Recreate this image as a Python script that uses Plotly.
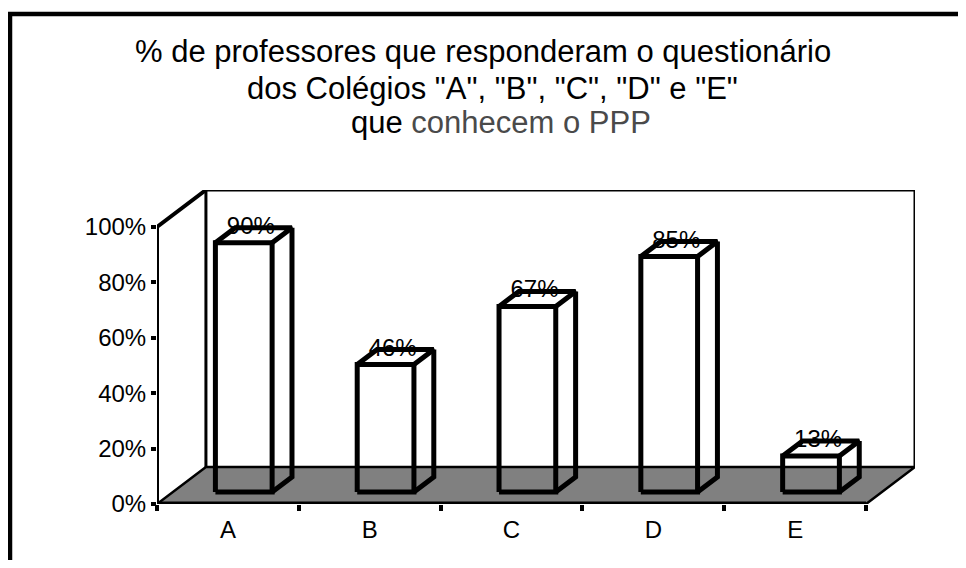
import plotly.graph_objects as go

# ---- data ----
categories = ["A", "B", "C", "D", "E"]
values = [0.90, 0.46, 0.67, 0.85, 0.13]
value_labels = ["90%", "46%", "67%", "85%", "13%"]
y_tick_vals = [0, 0.2, 0.4, 0.6, 0.8, 1.0]
y_tick_text = ["0%", "20%", "40%", "60%", "80%", "100%"]
title_lines = [
    "% de professores que responderam o questionário",
    'dos Colégios "A", "B", "C", "D" e "E"',
    'que <span style="color:#4a4a4a">conhecem o PPP</span>',
]

# ---- pseudo-3D geometry (in axis units) ----
N = len(categories)
DX = 0.345      # depth offset along x (category units)
DY = 0.1336     # depth offset along y (value units)
HALF_W = 0.2    # half bar width
D0, D1 = 0.324, 0.73  # bar front/back depth fraction

def P(x, v, d):
    return x + d * DX, v + d * DY

FONT = "Liberation Sans, Arial, sans-serif"
fig = go.Figure()

def poly(points, **kw):
    xs = [p[0] if p is not None else None for p in points]
    ys = [p[1] if p is not None else None for p in points]
    fig.add_trace(go.Scatter(x=xs, y=ys, mode="lines", hoverinfo="skip",
                             showlegend=False, cliponaxis=False, **kw))

# floor
poly([P(0, 0, 0), P(N, 0, 0), P(N, 0, 1), P(0, 0, 1), P(0, 0, 0)],
     fill="toself", fillcolor="#808080", line=dict(color="black", width=2.5))
# back wall
poly([P(0, 0, 1), P(0, 1, 1), P(N, 1, 1), P(N, 0, 1)],
     line=dict(color="black", width=3))
# left wall / value axis
poly([P(0, 0, 0), P(0, 1, 0), P(0, 1, 1)], line=dict(color="black", width=4))
# front floor edge (category axis)
poly([P(0, 0, 0), P(N, 0, 0)], line=dict(color="black", width=5))

# value labels (drawn beneath bar edges)
lab_x, lab_y = [], []
for i, v in enumerate(values):
    c = i + 0.5
    lab_x.append(P(c, v, (D0 + D1) / 2)[0] - 0.02)
    lab_y.append(P(c, v, D1)[1])
fig.add_trace(go.Scatter(x=lab_x, y=lab_y, mode="text", text=value_labels,
                         textposition="middle center", hoverinfo="skip",
                         showlegend=False, cliponaxis=False,
                         textfont=dict(family=FONT, size=24, color="black")))

# bars as wireframe boxes
pts = []
for i, v in enumerate(values):
    c = i + 0.5
    xl, xr = c - HALF_W, c + HALF_W
    pts += [P(xl, 0, D0), P(xr, 0, D0), P(xr, v, D0), P(xl, v, D0), P(xl, 0, D0), None]
    pts += [P(xl, v, D0), P(xl, v, D1), P(xr, v, D1), P(xr, v, D0), None]
    pts += [P(xr, v, D1), P(xr, 0, D1), P(xr, 0, D0), None]
poly(pts, line=dict(color="black", width=5))

# page has an 8px body margin: lay the figure out so it lands on target pixels
OFF = 8
W, H = 966 - OFF, 568 - 2 * OFF
L, T = 157 - OFF, 190 - OFF
pw, ph = 758, 314
R, B = W - L - pw, H - T - ph

def paper_x(px):
    return (px - OFF - L) / pw

def paper_y(py):
    return (T + ph - (py - OFF)) / ph

title_pos = [(483, 51), (492, 89), (501, 123)]
for txt, (px, py) in zip(title_lines, title_pos):
    fig.add_annotation(text=txt, x=paper_x(px), y=paper_y(py),
                       xref="paper", yref="paper", xanchor="center", yanchor="middle",
                       showarrow=False, font=dict(family=FONT, size=31, color="black"))

# outer border (only left and top edges are inside the picture)
fig.add_shape(type="line", xref="paper", yref="paper",
              x0=paper_x(10), x1=paper_x(10), y0=paper_y(600), y1=paper_y(12),
              line=dict(color="black", width=4.5))
fig.add_shape(type="line", xref="paper", yref="paper",
              x0=paper_x(8), x1=paper_x(1000), y0=paper_y(14), y1=paper_y(14),
              line=dict(color="black", width=4.5))

fig.update_layout(
    width=W, height=H,
    margin=dict(l=L, r=R, t=T, b=B),
    paper_bgcolor="white", plot_bgcolor="white",
    showlegend=False,
    xaxis=dict(range=[0, N + DX], showgrid=False, zeroline=False, showline=False,
               tickmode="array", tickvals=[i + 0.5 for i in range(N)], ticktext=categories,
               ticks="", tickfont=dict(family=FONT, size=24, color="black"),
               ticklabelstandoff=9,
               minor=dict(tickmode="array", tickvals=list(range(N + 1)), ticks="outside",
                          ticklen=6, tickwidth=4, tickcolor="black", showgrid=False),
               fixedrange=True),
    yaxis=dict(range=[0, 1 + DY], showgrid=False, zeroline=False, showline=False,
               tickmode="array", tickvals=y_tick_vals, ticktext=y_tick_text,
               ticks="outside", ticklen=5, tickwidth=4, tickcolor="black",
               tickfont=dict(family=FONT, size=24, color="black"),
               fixedrange=True),
)

fig.write_html("out.html")
